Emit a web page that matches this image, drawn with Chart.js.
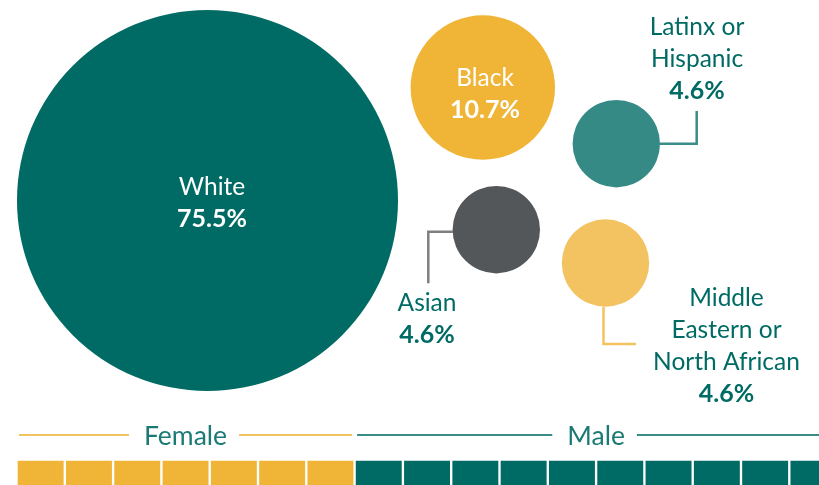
<!DOCTYPE html>
<html>
<head>
<meta charset="utf-8">
<script src="https://cdn.jsdelivr.net/npm/chart.js@4"></script>
<style>
  html, body { margin: 0; padding: 0; background: #ffffff; }
  #wrap { width: 819px; height: 485px; position: relative; }
  canvas { display: block; }
</style>
</head>
<body>
<div id="wrap"><canvas id="c" width="819" height="485"></canvas></div>
<script>
// ---------- data ----------
const groups = ['White', 'Black', 'Latinx or Hispanic', 'Asian', 'Middle Eastern or North African'];
const groupLines = [['White'], ['Black'], ['Latinx or', 'Hispanic'], ['Asian'], ['Middle', 'Eastern or', 'North African']];
const shares = [75.5, 10.7, 4.6, 4.6, 4.6];
// bubble placement (data units of the 819x485 plane)
const bubbleX = [207.5, 482.8, 616.3, 496.3, 605.5];
const bubbleY = [200.5, 87.5, 143.7, 229.7, 263.0];
const bubbleR = [190.5, 72.2, 43.7, 43.7, 43.7];

const genders = ['Female', 'Male'];
const genderSquares = [7, 10];

// ---------- styles / layout ----------
const bubbleColors = ['#006b64', '#f0b536', '#358a86', '#53575a', '#f3c361'];
const genderColors = ['#f0b536', '#006b64'];
const genderLineColors = ['#f3c361', '#3a8c88'];
const textTeal = '#006b64';
const FONT = 'Lato, "Open Sans", sans-serif';
const LABEL_SIZE = 24.5, VALUE_SIZE = 25, HEADER_SIZE = 26.5;

// label blocks: inside = white text in circle; others have connector paths
const labelLayout = [
  { x: 212, y: 202, inside: true },
  { x: 485, y: 93, inside: true },
  { x: 697, y: 58.3, inside: false, path: [[660, 143.7], [696.7, 143.7], [696.7, 111]], color: '#3a8c88' },
  { x: 427, y: 318, inside: false, path: [[453, 231.7], [428.3, 231.7], [428.3, 283.3]], color: '#7d7f81' },
  { x: 726.5, y: 345, inside: false, path: [[603.5, 306.7], [603.5, 344], [636, 344]], color: '#f3c361' }
];
const waffle = { left: 18, pitch: 48.3, gap: 3, top: 461, bottom: 512, headerY: 435 };

// ---------- build datasets ----------
const bubbleData = groups.map((g, i) => ({ x: bubbleX[i], y: bubbleY[i], r: bubbleR[i] }));

let k = 0;
const barDatasets = genders.map((g, gi) => {
  const data = [];
  for (let j = 0; j < genderSquares[gi]; j++, k++) {
    const cx = waffle.left + k * waffle.pitch + (waffle.pitch - waffle.gap) / 2;
    data.push({ x: cx, y: [waffle.top, waffle.bottom] });
  }
  return {
    type: 'bar', label: g, data,
    backgroundColor: genderColors[gi], borderWidth: 0,
    barThickness: waffle.pitch - waffle.gap, grouped: false, order: 2
  };
});

function textLine(ctx, txt, x, cy, size, weight, color) {
  ctx.font = weight + ' ' + size + 'px ' + FONT;
  ctx.fillStyle = color;
  ctx.textAlign = 'center';
  ctx.textBaseline = 'alphabetic';
  ctx.fillText(txt, x, cy + size * 0.36);
}

const overlay = {
  id: 'overlay',
  afterDatasetsDraw(chart) {
    const ctx = chart.ctx;
    const xs = chart.scales.x, ys = chart.scales.y;
    const px = v => xs.getPixelForValue(v), py = v => ys.getPixelForValue(v);
    ctx.save();
    // bubble labels + connectors
    labelLayout.forEach((L, i) => {
      if (L.path) {
        ctx.beginPath();
        ctx.strokeStyle = L.color; ctx.lineWidth = 2.5; ctx.lineJoin = 'miter'; ctx.lineCap = 'butt';
        L.path.forEach((p, j) => j ? ctx.lineTo(px(p[0]), py(p[1])) : ctx.moveTo(px(p[0]), py(p[1])));
        ctx.stroke();
      }
      const lines = groupLines[i];
      const n = lines.length + 1, pitch = 32;
      const startY = py(L.y) - (n - 1) * pitch / 2;
      const col = L.inside ? '#ffffff' : textTeal;
      lines.forEach((t, j) => textLine(ctx, t, px(L.x), startY + j * pitch, LABEL_SIZE, '400', col));
      textLine(ctx, shares[i].toFixed(1) + '%', px(L.x), startY + lines.length * pitch, VALUE_SIZE, '700', col);
    });
    // waffle headers
    let kk = 0;
    genders.forEach((g, gi) => {
      const l = px(waffle.left + kk * waffle.pitch);
      kk += genderSquares[gi];
      const r = px(waffle.left + kk * waffle.pitch - waffle.gap);
      const cx = (l + r) / 2, y = py(waffle.headerY);
      ctx.font = '400 ' + HEADER_SIZE + 'px ' + FONT;
      const w = ctx.measureText(g).width;
      ctx.strokeStyle = genderLineColors[gi]; ctx.lineWidth = 2;
      ctx.beginPath();
      ctx.moveTo(l + 1, y); ctx.lineTo(cx - w / 2 - 15, y);
      ctx.moveTo(cx + w / 2 + 12, y); ctx.lineTo(r - 1, y);
      ctx.stroke();
      textLine(ctx, g, cx, y, HEADER_SIZE, '400', '#1b7a74');
    });
    ctx.restore();
  }
};

new Chart(document.getElementById('c'), {
  type: 'bubble',
  data: {
    datasets: [
      {
        label: 'Race / ethnicity', data: bubbleData,
        backgroundColor: bubbleColors, borderWidth: 0,
        hoverRadius: 0, hoverBorderWidth: 0, order: 1, clip: false
      },
      ...barDatasets
    ]
  },
  options: {
    responsive: false,
    animation: false,
    events: [],
    layout: { padding: 0, autoPadding: false },
    plugins: { legend: { display: false }, tooltip: { enabled: false } },
    scales: {
      x: { type: 'linear', min: 0, max: 819, display: false, offset: false },
      y: { type: 'linear', min: 0, max: 485, reverse: true, display: false, offset: false }
    }
  },
  plugins: [overlay]
});
</script>
</body>
</html>
